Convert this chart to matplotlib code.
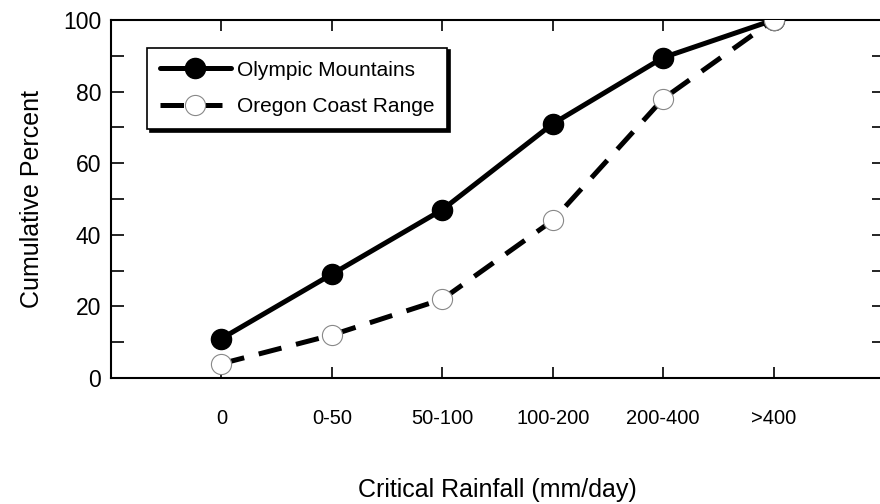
import matplotlib
matplotlib.use("Agg")
import matplotlib.pyplot as plt

categories = ["0", "0-50", "50-100", "100-200", "200-400", ">400"]
olympic = [11, 29, 47, 71, 89.5, 100]
oregon = [4, 12, 22, 44, 78, 100]
yticks_major = [0, 20, 40, 60, 80, 100]

plt.rcParams['font.family'] = ['Liberation Sans', 'DejaVu Sans']

fig = plt.figure(figsize=(8.8, 5.04), dpi=100)
ax = fig.add_axes([111/880, 126/504, 773/880, 358/504])

x = list(range(len(categories)))
ax.plot(x, olympic, color='black', lw=3.6, marker='o', ms=14.5,
        mfc='black', mec='black', label='Olympic Mountains', zorder=3,
        solid_capstyle='round')
ax.plot(x, oregon, color='black', lw=3.6, dashes=(4.7, 3.0), marker='o', ms=14.5,
        mfc='white', mec='#888888', mew=0.8, label='Oregon Coast Range', zorder=4,
        dash_capstyle='butt')

ax.set_xlim(-1, 6)
ax.set_ylim(0, 100)
ax.set_xticks(x)
ax.set_xticklabels(categories, fontsize=14.5)
ax.set_yticks(yticks_major)
ax.set_yticklabels([str(v) for v in yticks_major], fontsize=16.5)
ax.set_yticks([10, 30, 50, 70, 90], minor=True)

ax.tick_params(axis='x', which='both', direction='in', length=8, width=1.2,
               top=True, pad=22)
ax.tick_params(axis='y', which='both', direction='in', length=9, width=1.2,
               right=True, pad=7)

for s in ax.spines.values():
    s.set_linewidth(1.5)

ax.set_xlabel("Critical Rainfall (mm/day)", fontsize=18, labelpad=36)
ax.set_ylabel("Cumulative Percent", fontsize=18, labelpad=14)

leg = ax.legend(loc='upper left', bbox_to_anchor=(0.033, 0.952), fontsize=15,
                frameon=True, fancybox=False, edgecolor='black', framealpha=1,
                shadow={'color': 'black', 'alpha': 1}, handlelength=3.4,
                borderpad=0.62, labelspacing=0.85, handletextpad=0.3,
                borderaxespad=0.5)
leg.get_frame().set_linewidth(1.2)

fig.savefig("out.png", dpi=100)
